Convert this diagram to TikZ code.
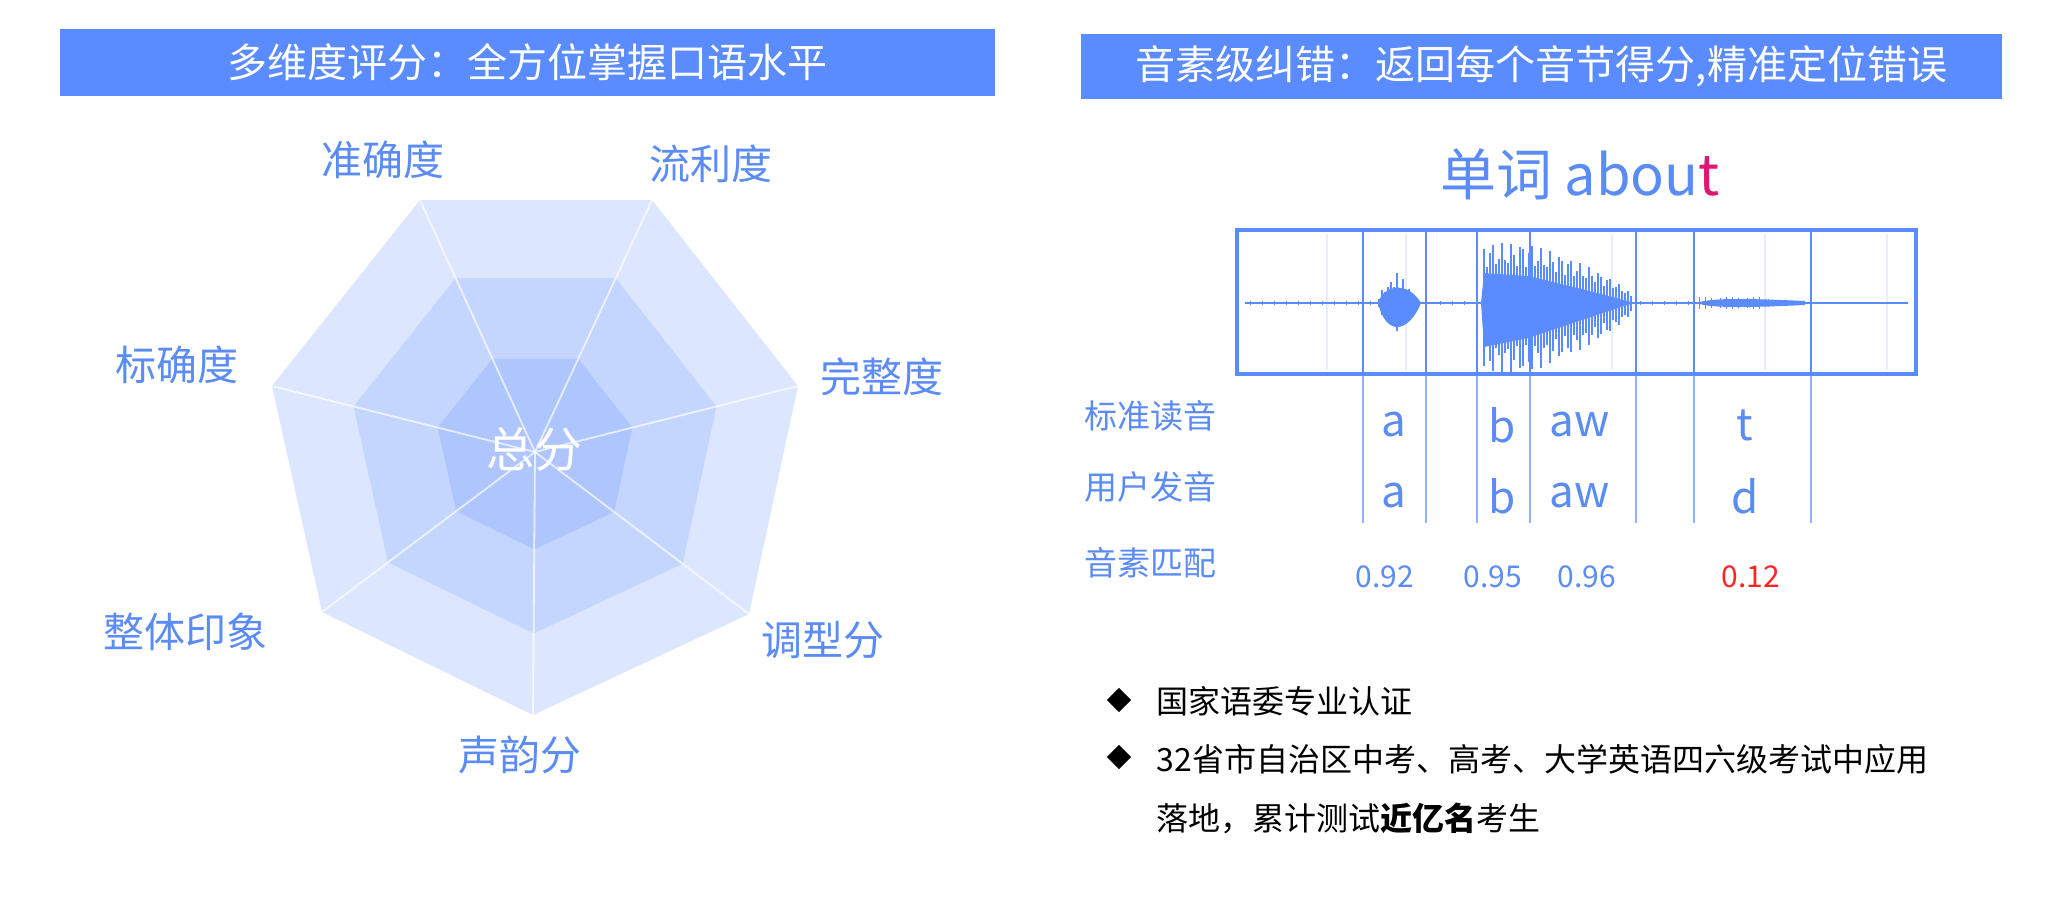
\documentclass[tikz,border=0pt]{standalone}
\usepackage{fontspec}
\setmainfont{Noto Sans}
\newfontfamily\cjk{Noto Sans CJK SC}
\usepackage{tikz}
\usetikzlibrary{shapes.geometric}
\definecolor{bannerblue}{HTML}{5A8BFF}
\definecolor{labelblue}{HTML}{5B8CF5}
\definecolor{waveblue}{HTML}{5B8CFF}
\definecolor{gridblue}{HTML}{8FB0FF}
\definecolor{hexA}{HTML}{DCE6FE}
\definecolor{hexB}{HTML}{C4D5FE}
\definecolor{hexC}{HTML}{AEC5FE}
\definecolor{wrongred}{HTML}{FF2525}
\definecolor{wrongpink}{HTML}{E3156E}
\tikzset{
every picture/.style={x=0.5pt, y=-0.5pt, line width=0.8pt},
%%%%%%%%%%  Node styles
banner/.style={fill=bannerblue, text=white, inner sep=0pt,
               font=\cjk\fontsize{20}{24}\selectfont},
axislabel/.style={text=labelblue, font=\cjk\fontsize{20.5}{24}\selectfont},
rowlabel/.style={text=labelblue, anchor=west, inner sep=0pt,
                 font=\cjk\fontsize{16.5}{20}\selectfont},
phone/.style={text=labelblue, font=\cjk\fontsize{22}{26}\selectfont},
score/.style={text=labelblue, font=\cjk\fontsize{15}{18}\selectfont},
bulletmark/.style={diamond, fill=black, inner sep=0pt, minimum width=12.5pt,
                   minimum height=12.5pt},
itemtext/.style={anchor=west, inner sep=0pt,
                 font=\cjk\fontsize{16}{20}\selectfont},
%%%% different line styles:
spoke/.style={draw=white, draw opacity=0.7, line width=0.9pt},
boxline/.style={draw=waveblue, line width=1.1pt},
tickline/.style={draw=gridblue, line width=0.8pt},
faintline/.style={draw=waveblue!15, line width=0.6pt},
wave/.style={draw=waveblue, line width=0.7pt}
}

\begin{document}
\begin{tikzpicture}
\fill[white] (0,0) rectangle (2052,918);
\useasboundingbox (0,0) rectangle (2052,918);

% titles
\node[banner, minimum width=467.5pt, minimum height=33.5pt] (title1) at (527.5,62.5)
     {多维度评分：全方位掌握口语水平};
\node[banner, minimum width=460.5pt, minimum height=32.5pt] (title2) at (1541.5,66.5)
     {音素级纠错：返回每个音节得分,精准定位错误};

%%%% radar
\coordinate (c) at (535,452);
\foreach \s/\col in {1/hexA, 0.69/hexB, 0.37/hexC}
  \fill[\col, shift={(535,452)}, scale=\s] (-115,-252) -- (117,-252) -- (263,-66)
    -- (214,162) -- (-2,263) -- (-213,160) -- (-263,-66) -- cycle;
\foreach \px/\py [count=\k] in {420/200, 652/200, 798/386, 749/614, 533/715, 322/612, 272/386}{
  \coordinate (v\k) at (\px,\py);
  \draw[spoke] (c) -- (v\k);
}
\node[axislabel] (acc)   at (383,160) {准确度};
\node[axislabel] (flu)   at (711,164) {流利度};
\node[axislabel] (comp)  at (882,377) {完整度};
\node[axislabel] (std)   at (177,365) {标确度};
\node[axislabel] (impr)  at (185,632) {整体印象};
\node[axislabel] (tone)  at (823,640) {调型分};
\node[axislabel] (pros)  at (520,755) {声韵分};
\node[text=white, font=\cjk\fontsize{24}{28}\selectfont] (total) at (534,449) {总分};

%%%% waveform
\node[text=labelblue, font=\cjk\fontsize{28}{32}\selectfont] (word) at (1580,174)
     {单词 abou{\color{wrongpink}t}};
\foreach \x in {1327,1406,1612,1765,1887}
  \draw[faintline] (\x,234) -- (\x,370);
\foreach \x [count=\i] in {1363,1426,1477,1530,1636,1694,1811}{
  \draw[boxline] (\x,230) -- (\x,374) coordinate (t\i);
  \draw[tickline] (t\i) -- (\x,523);
}
\draw[wave, line width=0.6pt] (1245,303) -- (1908,303);
\foreach \x in {1250,1262,...,1370,1440,1452,...,1476,1640,1652,...,1692}
  \draw[wave, line width=0.5pt] (\x,301) -- (\x,305);
% burst a
\fill[waveblue] (1378,303) .. controls (1384,284) and (1408,281) .. (1421,303)
                .. controls (1408,334) and (1386,336) .. (1378,303);
\foreach \x in {1379,1382,...,1420}{
  \pgfmathsetmacro\env{max(0,1-abs(\x-1396)/25)*(0.7+0.3*sin((\x-1380)*67))}
  \draw[wave] (\x,303-33*\env) -- (\x,303+30*\env);
}
% burst b-aw
\fill[waveblue] (1481,303) -- (1484,273) -- (1528,276) .. controls (1570,286) and (1610,296) .. (1634,303)
                .. controls (1605,312) and (1565,326) .. (1528,338) -- (1484,347) -- cycle;
\foreach \x in {1484,1487,...,1632}{
  \pgfmathsetmacro\env{min(1,(1-(\x-1482)/153)/0.7)^0.6*(0.8+0.2*sin((\x-1480)*37))}
  \draw[wave] (\x,303-60*\env) -- (\x,303+70*\env);
}
% burst t
\fill[waveblue] (1697,303) .. controls (1710,297) and (1760,299) .. (1805,301)
                -- (1805,305) .. controls (1760,307) and (1710,309) .. (1697,303);
\foreach \x in {1699,1702,...,1770}{
  \pgfmathsetmacro\amp{6*(0.6+0.4*sin((\x-1690)*53))}
  \draw[wave, line width=0.5pt] (\x,303-\amp) -- (\x,303+\amp);
}
\draw[boxline, line width=1.6pt] (1237,230) rectangle (1916,374);

%%%% phoneme table
\node[rowlabel] (ref)  at (1084,416) {标准读音};
\node[rowlabel] (usr)  at (1084,487) {用户发音};
\node[rowlabel] (mat)  at (1084,563) {音素匹配};
\node[phone] (ra)  at (1394,425) {a};
\node[phone] (rb)  at (1502,425) {b};
\node[phone] (raw) at (1580,425) {aw};
\node[phone] (rt)  at (1745,425) {t};
\node[phone] (ua)  at (1394,496) {a};
\node[phone] (ub)  at (1502,496) {b};
\node[phone] (uaw) at (1580,496) {aw};
\node[phone] (ud)  at (1745,496) {d};
\node[score] (sa)  at (1385,577) {0.92};
\node[score] (sb)  at (1493,577) {0.95};
\node[score] (saw) at (1587,577) {0.96};
\node[score, text=wrongred] (st) at (1751,577) {0.12};

%%%% notes
\node[bulletmark] (b1) at (1119,700) {};
\node[bulletmark] (b2) at (1119,757) {};
\node[itemtext] (n1) at (1156,701) {国家语委专业认证};
\node[itemtext] (n2) at (1156,759) {32省市自治区中考、高考、大学英语四六级考试中应用};
\node[itemtext] (n3) at (1156,818) {落地，累计测试{\bfseries 近亿名}考生};
\end{tikzpicture}
\end{document}
